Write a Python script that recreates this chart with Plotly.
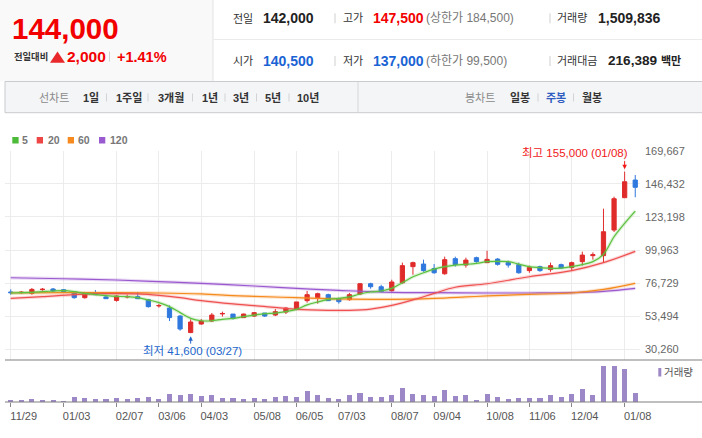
import plotly.graph_objects as go

W, H = 702, 438
def X(px): return px / W
def Y(py): return 1 - py / H

FONT = "Liberation Sans, Arial, Noto Sans CJK KR, sans-serif"

# ---------------- data ----------------
weeks = list(range(60))
tick_idx = [0, 5, 10, 14, 18, 23, 27, 31, 36, 40, 45, 49, 53, 58]
tick_labels = ["11/29", "01/03", "02/07", "03/06", "04/03", "05/08", "06/05",
               "07/03", "08/07", "09/04", "10/08", "11/06", "12/04", "01/08"]

opens = [70500, 70000, 69500, 72100, 72600, 72100, 70500, 66500, 70000, 67000,
         64600, 67000, 67200, 65100, 60700, 59200, 53600, 42000, 48000, 50100,
         55100, 55000, 52500, 53600, 55700, 54300, 56400, 58300, 64400, 66500,
         68600, 65800, 65100, 69100, 76300, 74200, 71400, 77000, 88300, 90100,
         86900, 83300, 93900, 89400, 94600, 91100, 93600, 91100, 89700, 85500,
         88300, 86200, 89700, 87600, 91800, 96000, 96000, 114000, 136700, 149100]
highs = [72300, 71200, 73300, 73300, 73300, 72600, 70900, 70200, 71900, 68600,
         68100, 68600, 70500, 65600, 62100, 61100, 54300, 51300, 51500, 55700,
         56700, 55000, 55300, 56400, 55700, 58500, 59900, 63500, 71200, 70000,
         69300, 66500, 69800, 76800, 77000, 75600, 79100, 91100, 91800, 93200,
         90100, 95300, 95300, 94600, 95300, 99500, 94300, 92500, 91100, 89000,
         89000, 91100, 90400, 91800, 98800, 98300, 129000, 137400, 155000, 152600]
lows = [68600, 69300, 68600, 71400, 70500, 70500, 65800, 65800, 68600, 65800,
        63700, 66000, 65600, 59500, 59500, 50100, 43300, 41600, 47500, 49400,
        53200, 51100, 52200, 52900, 52900, 53600, 55000, 57800, 63000, 62300,
        64400, 62300, 64400, 68400, 72800, 70700, 70700, 76300, 82600, 84700,
        83300, 82600, 88300, 87600, 91100, 91100, 89000, 87600, 83300, 84000,
        84700, 84700, 86900, 85500, 89000, 93200, 91100, 112600, 136700, 137000]
closes = [70000, 70300, 72300, 72400, 71200, 70700, 66500, 69500, 68600, 65800,
          67700, 67300, 65800, 60200, 61000, 52500, 44500, 49400, 50100, 54300,
          55400, 52000, 55000, 56000, 53600, 56700, 59200, 63500, 68600, 69300,
          64400, 63700, 68600, 76300, 74200, 70700, 77500, 89000, 91100, 85500,
          84000, 93200, 89700, 92900, 91800, 93400, 89900, 89400, 84000, 87600,
          85500, 89000, 87300, 91100, 96400, 96700, 112800, 136000, 147900, 144000]

# volume (thousand shares)
volumes = [700, 700, 1000, 700, 700, 400, 1600, 1300, 1000, 1000,
           1300, 1000, 1300, 1600, 1000, 2500, 2200, 2500, 1900, 2200,
           1300, 1300, 1000, 1300, 1000, 1600, 1900, 1600, 3400, 2200,
           1300, 1000, 2200, 2800, 1600, 1600, 2200, 4300, 2500, 2200,
           1900, 3700, 1900, 2200, 700, 2500, 1600, 1000, 1300, 1300,
           1300, 2200, 1600, 2500, 4000, 2200, 10900, 10900, 10000, 2800]

ma5 = [69800, 70000, 70200, 70700, 71200, 71400, 70700, 69500, 68600, 67900,
       67400, 67200, 66500, 64900, 63000, 60200, 56000, 52000, 50300, 50300,
       51300, 52000, 53200, 54300, 55300, 55700, 56700, 58300, 61400, 63500,
       65300, 66000, 67000, 69100, 70500, 71200, 73000, 77000, 81200, 84000,
       86600, 88300, 89400, 89900, 90600, 91800, 92000, 91800, 90100, 88300,
       87600, 87100, 87300, 88300, 89700, 91800, 96900, 109300, 118700, 127300]

ma20_idx = [0, 3, 6, 9, 12, 14, 16, 18, 21, 23, 27, 30, 32, 34, 36, 38, 40, 42, 45, 49, 53, 56, 59]
ma20 = [66000, 67200, 68600, 69300, 69100, 68100, 66500, 64400, 62100, 60900, 58300, 57600,
        57600, 58500, 61100, 64900, 69500, 73800, 76300, 81200, 85500, 91100, 99000]

ma60_idx = [0, 5, 10, 14, 18, 21, 23, 27, 31, 36, 40, 43, 45, 49, 53, 56, 59]
ma60 = [69800, 70000, 70000, 69800, 69100, 67900, 67400, 66500, 65600, 65300, 66000,
        67000, 67700, 68800, 69800, 72300, 76600]

ma120_idx = [0, 5, 10, 14, 18, 23, 27, 31, 36, 40, 45, 49, 53, 56, 59]
ma120 = [80500, 79800, 78900, 77700, 76600, 74700, 73000, 71600, 70200, 70000, 69800,
         69800, 70000, 70900, 73000]

price_ticks = [30260, 53494, 76729, 99963, 123198, 146432, 169667]

# ---------------- figure ----------------
fig = go.Figure()

def ma_trace(xs, ys, color, halo):
    fig.add_trace(go.Scatter(x=xs, y=ys, mode="lines", line=dict(color=halo, width=3.4, shape="spline"),
                             hoverinfo="skip", xaxis="x", yaxis="y"))
    fig.add_trace(go.Scatter(x=xs, y=ys, mode="lines", line=dict(color=color, width=1.2, shape="spline"),
                             hoverinfo="skip", xaxis="x", yaxis="y"))

ma_trace(ma120_idx, ma120, "#9a58cf", "rgba(154,88,207,0.22)")
ma_trace(ma60_idx, ma60, "#f58a1d", "rgba(245,138,29,0.22)")
ma_trace(ma20_idx, ma20, "#ef5050", "rgba(239,80,80,0.22)")
ma_trace(weeks, ma5, "#5cc13e", "rgba(92,193,62,0.22)")

fig.add_trace(go.Candlestick(
    x=weeks, open=opens, high=highs, low=lows, close=closes,
    increasing=dict(line=dict(color="#e02b2b", width=1), fillcolor="#e02b2b"),
    decreasing=dict(line=dict(color="#2f78de", width=1), fillcolor="#2f78de"),
    whiskerwidth=0, hoverinfo="skip", xaxis="x", yaxis="y"))

fig.add_trace(go.Bar(x=weeks, y=volumes, width=0.48, marker=dict(color="#9c87c7", line=dict(width=0)),
                     hoverinfo="skip", xaxis="x2", yaxis="y2"))

ann = []
shapes = []

def txt(s, x, y, size, color, bold=False, anchor="left"):
    ann.append(dict(text=(f"<b>{s}</b>" if bold else s), x=X(x), y=Y(y), xref="paper", yref="paper",
                    xanchor=anchor, yanchor="middle", showarrow=False, borderpad=0,
                    font=dict(size=size, color=color, family=FONT)))

def rect(x0, y0, x1, y1, fill, line=None, lw=0):
    shapes.append(dict(type="rect", xref="paper", yref="paper", x0=X(x0), x1=X(x1), y0=Y(y0), y1=Y(y1),
                       fillcolor=fill, line=dict(color=line or fill, width=lw), layer="below"))

def hline(x0, x1, y, color, w=1, layer="below"):
    shapes.append(dict(type="line", xref="paper", yref="paper", x0=X(x0), x1=X(x1), y0=Y(y), y1=Y(y),
                       line=dict(color=color, width=w), layer=layer))

def vline(x, y0, y1, color, w=1, layer="below"):
    shapes.append(dict(type="line", xref="paper", yref="paper", x0=X(x), x1=X(x), y0=Y(y0), y1=Y(y1),
                       line=dict(color=color, width=w), layer=layer))

# header
rect(0, 0, 213, 81.5, "#f9f9f9")
vline(213, 0, 81.5, "#e3e3e3")
hline(213, 702, 39.5, "#ebebeb")
rect(5, 81.5, 703, 112.7, "#f4f5f7", "#c9cbcf", 1)
vline(358, 82, 112.2, "#d6d7da")

txt("144,000", 11, 28.8, 29.5, "#f20000", True)
txt("전일대비", 12.5, 56, 9.3, "#333333", True)
shapes.append(dict(type="path", xref="paper", yref="paper",
                   path=f"M {X(50)} {Y(62.7)} L {X(65)} {Y(62.7)} L {X(57.5)} {Y(51.5)} Z",
                   fillcolor="#e8282b", line=dict(width=0), layer="above"))
txt("2,000", 65.5, 56.5, 15.5, "#f20000", True)
vline(109.5, 51.5, 61.5, "#d0d0d0")
txt("+1.41%", 115.5, 56.5, 14.5, "#f20000", True)

for yy in (18.3, 61):
    vline(335, yy - 5, yy + 5, "#cfcfcf")
    vline(550, yy - 5, yy + 5, "#cfcfcf")
txt("전일", 231.7, 18.3, 11, "#333333")
txt("142,000", 262, 18.3, 14, "#222222", True)
txt("고가", 341.7, 18.3, 11, "#333333")
txt("147,500", 371.7, 18.3, 14, "#f20000", True)
txt("(상한가 184,500)", 425, 18.3, 12, "#777777")
txt("거래량", 555.5, 18.3, 11, "#333333")
txt("1,509,836", 596.7, 18.3, 14, "#222222", True)
txt("시가", 231.7, 61, 11, "#333333")
txt("140,500", 262, 61, 14, "#1a63d4", True)
txt("저가", 341.7, 61, 11, "#333333")
txt("137,000", 371.7, 61, 14, "#1a63d4", True)
txt("(하한가 99,500)", 425, 61, 12, "#777777")
txt("거래대금", 555.5, 61, 11, "#333333")
txt("216,389", 607.3, 61, 13.6, "#222222", True)
txt("백만", 659.5, 61, 11, "#222222", True)

# nav bar
NY = 97.5
txt("선차트", 38.3, NY, 11, "#8a8a8a")
for s, x in [("1일", 82.4), ("1주일", 115), ("3개월", 157), ("1년", 200.5), ("3년", 232), ("5년", 263.5), ("10년", 295.5)]:
    txt(s, x, NY, 11, "#333333", True)
for x in (106.5, 148, 192.5, 225, 256.5, 289):
    vline(x, NY - 4, NY + 4, "#d3d3d3")
txt("봉차트", 464, NY, 11, "#8a8a8a")
txt("일봉", 509, NY, 11, "#333333", True)
txt("주봉", 545, NY, 11, "#2f5cc0", True)
txt("월봉", 581, NY, 11, "#333333", True)
vline(538, NY - 4, NY + 4, "#d3d3d3")
vline(573.5, NY - 4, NY + 4, "#d3d3d3")

# MA legend
for (c, x0, lab, lx) in [("#4dbb3a", 12.3, "5", 21.3), ("#ee4545", 36.7, "20", 46.7),
                         ("#f68a1e", 67.7, "60", 77.3), ("#9b5bd0", 99, "120", 109)]:
    rect(x0, 137, x0 + 6.3, 143.5, c)
    txt(lab, lx, 140.3, 10.5, "#777777", True)

# volume legend
rect(658.3, 368, 661.3, 376.5, "#9c87c7")
txt("거래량", 663, 372.3, 10.5, "#555555")

# axis lines
hline(5, 702, 360, "#808080", 1.2, "above")
hline(5, 702, 402, "#808080", 1.2, "above")

# high / low annotations
txt("최고 155,000 (01/08)", 629, 153, 11.5, "#f01818", anchor="right")
ann.append(dict(x=58, y=155000, xref="x", yref="y", text="", showarrow=True, ax=0, ay=-12,
                arrowhead=2, arrowsize=0.9, arrowwidth=1, arrowcolor="#f01818", standoff=2.5))
txt("최저 41,600 (03/27)", 141.5, 351, 11.5, "#2266cc")
ann.append(dict(x=17, y=41600, xref="x", yref="y", text="", showarrow=True, ax=0, ay=12,
                arrowhead=2, arrowsize=0.9, arrowwidth=1, arrowcolor="#2266cc", standoff=3))

xr = [-0.54, 59.45]
fig.update_layout(
    width=W, height=H, margin=dict(l=0, r=0, t=0, b=0, pad=0), autosize=False,
    paper_bgcolor="white", plot_bgcolor="white", showlegend=False,
    boxgap=0.6, boxgroupgap=0, bargap=0,
    font=dict(family=FONT, size=11, color="#666666"),
    xaxis=dict(domain=[X(5), X(640)], range=xr, anchor="y", tickvals=tick_idx, showticklabels=False,
               showgrid=True, gridcolor="#ececec", gridwidth=1, zeroline=False, ticks="",
               rangeslider=dict(visible=False), fixedrange=True, automargin=False),
    yaxis=dict(domain=[Y(360), Y(150.7)], range=[22738, 169700], anchor="x", side="right",
               tickvals=price_ticks, ticktext=[f"{v:,}" for v in price_ticks],
               showgrid=True, gridcolor="#ececec", gridwidth=1, zeroline=False, ticks="",
               ticklabelstandoff=4, tickfont=dict(size=11, color="#666666", family=FONT),
               fixedrange=True, automargin=False),
    xaxis2=dict(domain=[X(5), X(640)], range=xr, anchor="y2", tickvals=tick_idx, ticktext=tick_labels,
                ticks="outside", ticklen=4, tickcolor="#888888", tickwidth=1, showgrid=False,
                zeroline=False, showline=False, ticklabelshift=13,
                tickfont=dict(size=11, color="#555555", family=FONT), fixedrange=True, automargin=False),
    yaxis2=dict(domain=[Y(402), Y(366)], range=[0, 10900], anchor="x2", showgrid=False,
                showticklabels=False, zeroline=False, ticks="", fixedrange=True, automargin=False),
    annotations=ann, shapes=shapes,
)

fig.write_html("out.html", config={"displayModeBar": False, "staticPlot": True},
               post_script="document.body.style.margin='0';document.body.style.overflow='hidden';")
